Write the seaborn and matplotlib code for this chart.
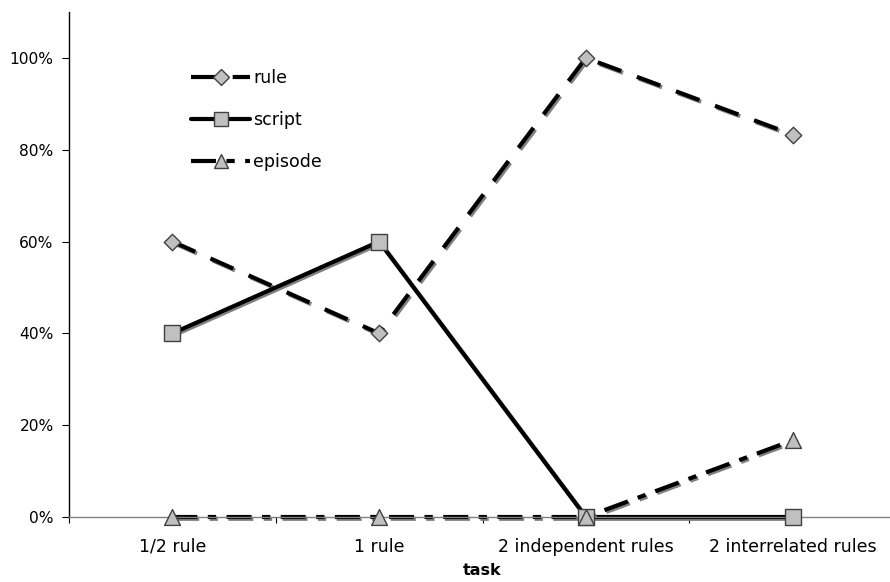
import matplotlib
matplotlib.use("Agg")
import matplotlib.pyplot as plt
import matplotlib.patheffects as pe
from matplotlib.lines import Line2D
from matplotlib.ticker import FuncFormatter, FixedLocator
import seaborn as sns
import pandas as pd

categories = ["1/2 rule", "1 rule", "2 independent rules", "2 interrelated rules"]
rule = [60, 40, 100, 83.3]
script = [40, 60, 0, 0]
episode = [0, 0, 0, 16.7]
series_names = ["rule", "script", "episode"]

rows = []
for name, vals in zip(series_names, [rule, script, episode]):
    for i, v in enumerate(vals):
        rows.append({"task": i, "value": v, "series": name})
df = pd.DataFrame(rows)

sns.set_theme(style="white")
plt.rcParams['font.family'] = ['DejaVu Sans']

fig = plt.figure(figsize=(8.9, 5.82), dpi=100)
ax = fig.add_axes([69/890, 1-517/582, (896-69)/890, (517-12)/582])

dashes = {"rule": (6, 4), "script": "", "episode": (6, 2.5, 2, 2.5)}
markers = {"rule": "D", "script": "s", "episode": "^"}
black = {"rule": "black", "script": "black", "episode": "black"}

sns.lineplot(data=df, x="task", y="value", hue="series", style="series",
             palette=black, dashes=dashes, linewidth=3.0, ax=ax, legend=False)
for line in ax.get_lines():
    line.set_path_effects([pe.SimpleLineShadow(offset=(1.3, -1.3), shadow_color="#808080", alpha=1.0),
                           pe.Normal()])
    line.set_clip_on(False)
    line.set_zorder(2)

sizes = {"rule": 70, "script": 120, "episode": 130}
for name in series_names:
    sub = df[df["series"] == name]
    sns.scatterplot(data=sub, x="task", y="value", marker=markers[name], s=sizes[name],
                    color="#c0c0c0", edgecolor="#404040", linewidth=1.0, ax=ax,
                    legend=False, zorder=3, clip_on=False)

ax.set_xlim(-0.5, 3.5)
ax.set_ylim(0, 110)
ax.yaxis.set_major_locator(FixedLocator([0, 20, 40, 60, 80, 100]))
ax.yaxis.set_major_formatter(FuncFormatter(lambda v, p: f"{int(round(v))}%"))
ax.set_xticks(range(len(categories)))
ax.set_xticklabels(categories)
ax.set_xticks([-0.5, 0.5, 1.5, 2.5, 3.5], minor=True)
ax.tick_params(axis="x", which="major", length=0, labelsize=12.5, pad=15, colors="black")
ax.tick_params(axis="x", which="minor", length=4, width=0.8, direction="out", color="black")
ax.tick_params(axis="y", which="major", length=5, width=0.8, direction="out", labelsize=11.2,
               color="black", labelcolor="black", pad=6)
ax.tick_params(axis="both", bottom=True, left=True)
ax.tick_params(axis="x", which="minor", bottom=True)

for s in ["top", "right"]:
    ax.spines[s].set_visible(False)
ax.spines["left"].set_color("black")
ax.spines["left"].set_linewidth(1.0)
ax.spines["bottom"].set_color("#808080")
ax.spines["bottom"].set_linewidth(1.0)
ax.grid(False)

ax.set_xlabel("task", fontsize=11.5, fontweight="bold", labelpad=5, color="black")
ax.set_ylabel("")

handles = []
for name in series_names:
    ls = "-" if name == "script" else (0, dashes[name])
    h = Line2D([], [], color="black", linewidth=3.0, linestyle=ls,
               marker=markers[name], markersize=10 if name != "rule" else 8,
               markerfacecolor="#c0c0c0", markeredgecolor="#404040", markeredgewidth=1.0)
    handles.append(h)
leg = ax.legend(handles=handles, labels=series_names, loc="upper left",
                bbox_to_anchor=(0.129, 0.918), frameon=False, fontsize=12.5,
                handlelength=3.4, labelspacing=1.38, handletextpad=0.15)
for t in leg.get_texts():
    t.set_color("black")

fig.savefig("out.png", dpi=100)
